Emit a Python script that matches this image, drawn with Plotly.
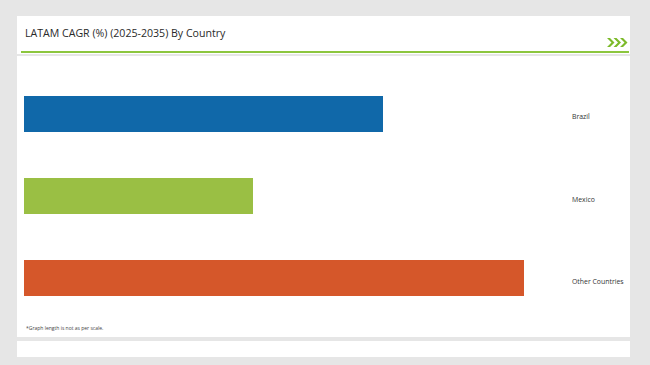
import plotly.graph_objects as go

countries = ["Brazil", "Mexico", "Other Countries"]
cagr = [3.59, 2.29, 5.0]
colors = ["#1068a9", "#9abf44", "#d5572a"]
title_text = "LATAM CAGR (%) (2025-2035) By Country"
footnote = "*Graph length is not as per scale."

W, H = 650, 365

def px_x(p):
    return p / W

def px_y(p):
    return 1 - p / H

fig = go.Figure()
fig.add_trace(go.Bar(
    y=countries, x=cagr, orientation="h",
    marker=dict(color=colors, line=dict(width=0)),
    width=0.44, showlegend=False, hoverinfo="x+y",
))

shapes = []
# white panels
for (x0, y0, x1, y1) in [(17, 16, 630, 54), (17, 56, 630, 337), (17, 341, 630, 357)]:
    shapes.append(dict(type="rect", xref="paper", yref="paper",
                       x0=px_x(x0), x1=px_x(x1), y0=px_y(y1), y1=px_y(y0),
                       fillcolor="white", line=dict(width=0), layer="below"))
# green rule
shapes.append(dict(type="line", xref="paper", yref="paper",
                   x0=px_x(21), x1=px_x(629), y0=px_y(52), y1=px_y(52),
                   line=dict(color="#8cc63e", width=2.2)))
# chevrons
for i in range(3):
    cx = 607 + i * 6.5
    path = "M {a},{b} L {c},{d} L {a},{e} L {f},{e} L {g},{d} L {f},{b} Z".format(
        a=px_x(cx), b=px_y(38), c=px_x(cx + 4.5), d=px_y(42.5), e=px_y(47),
        f=px_x(cx + 3), g=px_x(cx + 7.5))
    shapes.append(dict(type="path", xref="paper", yref="paper", path=path,
                       fillcolor="#7cba2a", line=dict(width=0)))

annotations = [
    dict(text=title_text, xref="paper", yref="paper", x=px_x(23), y=px_y(33),
         xanchor="left", yanchor="middle", showarrow=False,
         font=dict(family="Open Sans", size=10.6, color="#2a2a2a")),
    dict(text=footnote, xref="paper", yref="paper", x=px_x(24), y=px_y(328),
         xanchor="left", yanchor="middle", showarrow=False,
         font=dict(family="Open Sans", size=5, color="#444444")),
]
for c in countries:
    annotations.append(dict(text=c, xref="paper", yref="y", x=px_x(570), y=c,
                            xanchor="left", yanchor="middle", yshift=-3, showarrow=False,
                            font=dict(family="Open Sans", size=6.9, color="#333333")))

fig.update_layout(
    width=W, height=H,
    margin=dict(l=0, r=0, t=0, b=0),
    paper_bgcolor="#e6e6e6", plot_bgcolor="rgba(0,0,0,0)",
    xaxis=dict(domain=[px_x(24), px_x(566)], range=[0, 5.42], visible=False, fixedrange=True),
    yaxis=dict(domain=[px_y(319), px_y(73)], autorange="reversed", visible=False,
               categoryorder="array", categoryarray=countries, fixedrange=True),
    shapes=shapes, annotations=annotations, bargap=0,
)

fig.write_html("out.html")
